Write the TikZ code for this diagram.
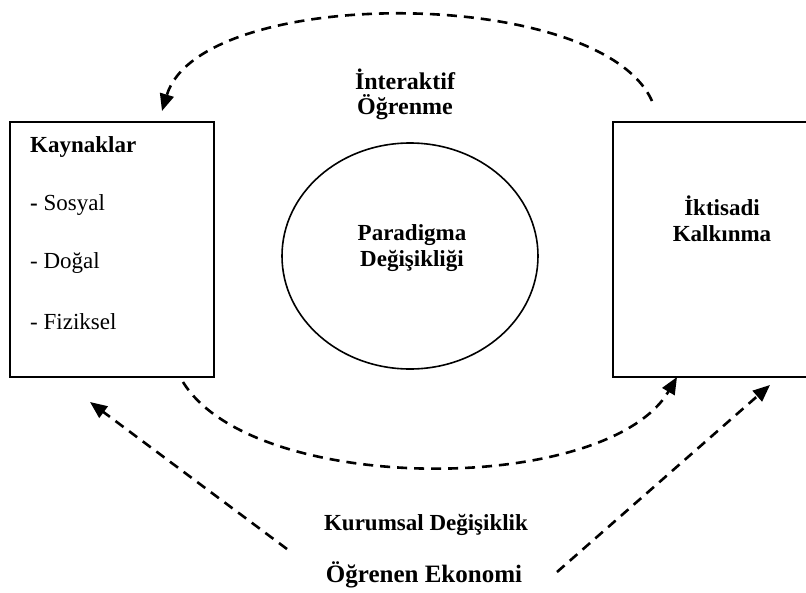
\documentclass[tikz,border=0pt]{standalone}
\usepackage{fontspec}
\setmainfont{Liberation Serif}
\usetikzlibrary{arrows.meta,shapes.geometric}
\begin{document}
\begin{tikzpicture}[x=1pt,y=-1pt,
  frame/.style={draw,line width=1.8pt,inner sep=0pt},
  flow/.style={line width=2.6pt,dash pattern=on 10pt off 7pt,
    -{Triangle[length=17pt,width=14pt]}},
  bigb/.style={font=\fontsize{23}{26}\selectfont\bfseries,align=center,inner sep=0pt},
  item/.style={font=\fontsize{23}{26}\selectfont,anchor=west,inner sep=0pt}]
\clip (0,0) rectangle (806,592);

% boxes and the central ellipse
\node[frame,anchor=north west,minimum width=204pt,minimum height=255pt] (res) at (9,121) {};
\node[frame,anchor=north west,minimum width=230pt,minimum height=255pt] (dev) at (612,121) {};
\node[draw,ellipse,line width=1.6pt,inner sep=0pt,minimum width=256pt,minimum height=226pt] (par) at (410,256) {};

% texts
\node[bigb,anchor=west] (kay) at (30,147) {Kaynaklar};
\node[item] (sos) at (30,205) {\textbf{-} Sosyal};
\node[item] (dog) at (30,263) {- Doğal};
\node[item] (fiz) at (30,322) {- Fiziksel};
\node[bigb] (ptext) at (412,248) {Paradigma\\Değişikliği};
\node[bigb] (dtext) at (722,219) {İktisadi\\Kalkınma};
\node[bigb,font=\fontsize{24}{25}\selectfont\bfseries] (inter) at (405,94) {İnteraktif\\Öğrenme};
\node[bigb] (kur) at (426,525) {Kurumsal Değişiklik};
\node[bigb,font=\fontsize{25}{27}\selectfont\bfseries] (ogr) at (424,575) {Öğrenen Ekonomi};

% connector end points
\coordinate (topS) at (652,101);
\coordinate (topE) at (162,111);
\coordinate (botS) at (183,382);
\coordinate (botE) at (677,377);
\coordinate (lS) at (287,549);
\coordinate (lE) at (90,402);
\coordinate (rS) at (557,572);
\coordinate (rE) at (770,385);

% dashed connectors
\draw[flow] (topS) .. controls (600,-15) and (200,-15) .. (topE);
\draw[flow] (botS) .. controls (253,496) and (607,496) .. (botE);
\draw[flow] (lS) -- (lE);
\draw[flow] (rS) -- (rE);
\end{tikzpicture}
\end{document}
